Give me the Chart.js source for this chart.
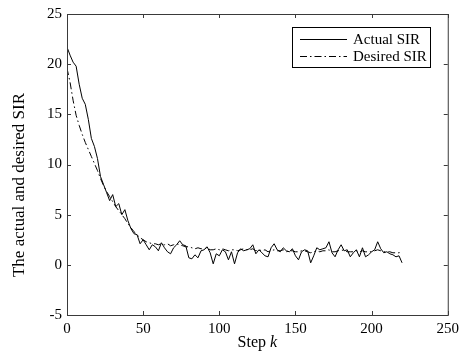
<!DOCTYPE html>
<html>
<head>
<meta charset="utf-8">
<script src="https://cdn.jsdelivr.net/npm/chart.js@4"></script>
<style>
  html, body { margin: 0; padding: 0; background: #fff; }
  #wrap { width: 464px; height: 353px; }
</style>
</head>
<body>
<div id="wrap"><canvas id="sirChart" width="464" height="353"></canvas></div>
<script>
// -------------------------
// Data
// -------------------------
const steps = [
  0, 2, 4, 6, 8, 10, 12, 14, 16, 18, 20, 22, 24, 26, 28, 30, 32, 34, 36, 38,
  40, 42, 44, 46, 48, 50, 52, 54, 56, 58, 60, 62, 64, 66, 68, 70, 72, 74, 76, 78,
  80, 82, 84, 86, 88, 90, 92, 94, 96, 98, 100, 102, 104, 106, 108, 110, 112, 114, 116, 118,
  120, 122, 124, 126, 128, 130, 132, 134, 136, 138, 140, 142, 144, 146, 148, 150, 152, 154, 156, 158,
  160, 162, 164, 166, 168, 170, 172, 174, 176, 178, 180, 182, 184, 186, 188, 190, 192, 194, 196, 198,
  200, 202, 204, 206, 208, 210, 212, 214, 216, 218, 220
];

const actualSIR = [
  21.7, 20.9, 20.2, 19.8, 18.0, 16.6, 16.0, 14.5, 12.6, 11.8, 10.6, 8.8, 8.0, 7.2, 6.4, 7.0, 5.8, 6.1, 5.0, 5.5,
  4.4, 3.6, 3.1, 3.0, 2.1, 2.5, 2.0, 1.5, 2.0, 1.8, 1.4, 2.2, 1.7, 1.3, 1.1, 1.7, 2.0, 2.4, 2.0, 1.9,
  0.7, 0.6, 1.0, 0.7, 1.4, 1.5, 1.8, 1.2, 0.1, 1.1, 0.9, 1.5, 1.3, 0.5, 1.3, 0.1, 1.2, 1.6, 1.4, 1.5,
  1.6, 2.0, 1.1, 1.5, 1.2, 0.9, 0.8, 1.7, 2.1, 1.5, 1.3, 1.7, 1.4, 1.3, 1.6, 0.9, 0.5, 1.3, 1.5, 1.4,
  0.2, 0.9, 1.7, 1.5, 1.6, 1.7, 2.3, 1.2, 0.8, 1.5, 2.0, 1.4, 1.5, 0.8, 1.2, 1.5, 0.8, 1.7, 0.8, 1.0,
  1.3, 1.5, 2.3, 1.6, 1.2, 1.3, 1.1, 1.0, 0.8, 0.9, 0.2
];

const desiredSIR = [
  19.6, 18.2, 16.4, 14.9, 13.9, 13.0, 12.2, 11.5, 10.8, 10.1, 9.4, 8.6, 7.9, 7.3, 6.8, 6.3, 5.8, 5.4, 5.0, 4.6,
  4.1, 3.7, 3.3, 3.0, 2.7, 2.5, 2.3, 2.2, 2.1, 2.1, 2.0, 2.1, 2.0, 2.1, 1.9, 2.0, 2.1, 2.0, 1.9, 1.8,
  1.8, 1.7, 1.6, 1.7, 1.6, 1.6, 1.7, 1.5, 1.5, 1.6, 1.5, 1.6, 1.5, 1.4, 1.5, 1.5, 1.4, 1.5, 1.6, 1.5,
  1.5, 1.6, 1.4, 1.5, 1.4, 1.5, 1.3, 1.4, 1.5, 1.4, 1.4, 1.5, 1.3, 1.4, 1.4, 1.3, 1.3, 1.4, 1.4, 1.3,
  1.2, 1.3, 1.4, 1.3, 1.4, 1.4, 1.5, 1.3, 1.3, 1.4, 1.5, 1.4, 1.3, 1.3, 1.3, 1.4, 1.3, 1.4, 1.3, 1.3,
  1.3, 1.4, 1.5, 1.4, 1.3, 1.3, 1.3, 1.2, 1.2, 1.2, 1.3
];

const xTicks = [0, 50, 100, 150, 200, 250];
const yTicks = [-5, 0, 5, 10, 15, 20, 25];
const seriesNames = ["Actual SIR", "Desired SIR"];

const serif = "'Liberation Serif', 'Times New Roman', serif";
const dashDot = [7, 3, 1.5, 3];

// -------------------------
// Frame, inward ticks, legend box, titles
// -------------------------
const matlabFrame = {
  id: "matlabFrame",
  afterDraw(chart) {
    const { ctx, chartArea: a, scales: { x, y } } = chart;
    ctx.save();

    // box around plot
    ctx.strokeStyle = "#3a3a3a";
    ctx.lineWidth = 1;
    ctx.setLineDash([]);
    ctx.strokeRect(a.left + 0.5, a.top + 0.5, a.right - a.left, a.bottom - a.top);

    // inward tick marks on all four sides
    ctx.beginPath();
    xTicks.forEach(v => {
      const px = Math.round(x.getPixelForValue(v)) + 0.5;
      ctx.moveTo(px, a.bottom); ctx.lineTo(px, a.bottom - 4);
      ctx.moveTo(px, a.top); ctx.lineTo(px, a.top + 4);
    });
    yTicks.forEach(v => {
      const py = Math.round(y.getPixelForValue(v)) + 0.5;
      ctx.moveTo(a.left, py); ctx.lineTo(a.left + 4, py);
      ctx.moveTo(a.right, py); ctx.lineTo(a.right - 4, py);
    });
    ctx.stroke();

    // legend box
    const bx = 292, by = 27, bw = 138, bh = 40;
    ctx.fillStyle = "#fff";
    ctx.fillRect(bx, by, bw, bh);
    ctx.strokeStyle = "#000";
    ctx.strokeRect(bx + 0.5, by + 0.5, bw, bh);
    ctx.font = "15px " + serif;
    ctx.textBaseline = "middle";
    ctx.textAlign = "left";
    ctx.fillStyle = "#000";
    chart.data.datasets.forEach((ds, i) => {
      const ly = by + 12 + i * 17;
      ctx.beginPath();
      ctx.setLineDash(ds.borderDash || []);
      ctx.moveTo(300, ly + 0.5);
      ctx.lineTo(347, ly + 0.5);
      ctx.stroke();
      ctx.setLineDash([]);
      ctx.fillText(ds.label, 353, ly + 1);
    });

    // x title: "Step k" with italic k
    ctx.textBaseline = "alphabetic";
    ctx.font = "16px " + serif;
    const w1 = ctx.measureText("Step ").width;
    ctx.font = "italic 16px " + serif;
    const w2 = ctx.measureText("k").width;
    const cx = (a.left + a.right) / 2;
    let sx = cx - (w1 + w2) / 2;
    ctx.font = "16px " + serif;
    ctx.fillText("Step ", sx, 347);
    ctx.font = "italic 16px " + serif;
    ctx.fillText("k", sx + w1, 347);

    // y title
    ctx.translate(24, 185);
    ctx.rotate(-Math.PI / 2);
    ctx.textAlign = "center";
    ctx.font = "17px " + serif;
    ctx.fillText("The actual and desired SIR", 0, 0);

    ctx.restore();
  }
};

// -------------------------
// Chart
// -------------------------
const ctx = document.getElementById("sirChart").getContext("2d");
new Chart(ctx, {
  type: "line",
  data: {
    datasets: [
      {
        label: seriesNames[0],
        data: steps.map((s, i) => ({ x: s, y: actualSIR[i] })),
        borderColor: "#000",
        borderWidth: 1,
        pointRadius: 0,
        tension: 0,
        fill: false
      },
      {
        label: seriesNames[1],
        data: steps.map((s, i) => ({ x: s, y: desiredSIR[i] })),
        borderColor: "#000",
        borderWidth: 1,
        borderDash: dashDot,
        pointRadius: 0,
        tension: 0,
        fill: false
      }
    ]
  },
  options: {
    responsive: false,
    animation: false,
    layout: { padding: { top: 14, right: 14, left: 0, bottom: 0 } },
    plugins: {
      legend: { display: false },
      tooltip: { enabled: false }
    },
    scales: {
      x: {
        type: "linear",
        min: 0,
        max: 250,
        afterFit: s => { s.height = 38; },
        afterBuildTicks: s => { s.ticks = xTicks.map(v => ({ value: v })); },
        grid: { display: false, drawTicks: false },
        border: { display: false },
        ticks: { color: "#000", padding: 5, maxRotation: 0, font: { family: serif, size: 15 } }
      },
      y: {
        min: -5,
        max: 25,
        afterFit: s => { s.width = 67; },
        afterBuildTicks: s => { s.ticks = yTicks.map(v => ({ value: v })); },
        grid: { display: false, drawTicks: false },
        border: { display: false },
        ticks: { color: "#000", padding: 5, font: { family: serif, size: 15 } }
      }
    }
  },
  plugins: [matlabFrame]
});
</script>
</body>
</html>
